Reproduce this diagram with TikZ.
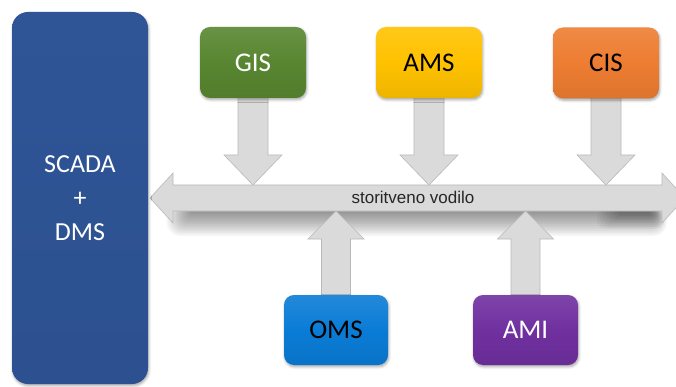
\documentclass[tikz,border=0pt]{standalone}
\usepackage{fontspec}
\setmainfont{Carlito}
\newfontfamily\busfont{Liberation Sans}
\usetikzlibrary{shadows.blur,calc,backgrounds}

\definecolor{scadablue}{RGB}{47,85,151}
\definecolor{gisgreen}{RGB}{88,134,48}
\definecolor{amsyellow}{RGB}{255,194,0}
\definecolor{cisorange}{RGB}{237,125,49}
\definecolor{omsblue}{RGB}{10,124,214}
\definecolor{amipurple}{RGB}{112,48,160}
\definecolor{arrowfill}{RGB}{218,218,218}
\definecolor{arrowline}{RGB}{185,185,185}

% block arrow pointing down from a box to the bus
\newcommand\blockdown[2]{%
  \path[blockarrow] let \p1=(#1.south), \p2=(#1.south |- #2) in
    (\x1-15pt,\y1+4pt) -- (\x1-15pt,\y2+30pt) -- (\x1-29pt,\y2+30pt) -- (\x1,\y2)
    -- (\x1+29pt,\y2+30pt) -- (\x1+15pt,\y2+30pt) -- (\x1+15pt,\y1+4pt) -- cycle;}
% block arrow pointing up from a box to the bus
\newcommand\blockup[2]{%
  \path[blockarrow] let \p1=(#1.north), \p2=(#1.north |- #2) in
    (\x1-14.5pt,\y1-4pt) -- (\x1-14.5pt,\y2-28pt) -- (\x1-28pt,\y2-28pt) -- (\x1,\y2)
    -- (\x1+28pt,\y2-28pt) -- (\x1+14.5pt,\y2-28pt) -- (\x1+14.5pt,\y1-4pt) -- cycle;}

\begin{document}
\begin{tikzpicture}[x=1pt,y=-1pt,
  sysbox/.style={draw=none, rounded corners=10pt, inner sep=0pt,
    minimum width=106pt, minimum height=71pt,
    font=\fontsize{27}{32}\selectfont,
    top color=#1!90!white, bottom color=#1!93!black, middle color=#1,
    blur shadow={shadow xshift=0.8pt, shadow yshift=-1.8pt,
      shadow blur radius=2.5pt, shadow opacity=35}},
  blockarrow/.style={fill=arrowfill, draw=arrowline, line width=0.6pt,
    line join=miter},
  buslabel/.style={font=\busfont\fontsize{17}{19}\selectfont, text=black!85}]

\useasboundingbox (0,0) rectangle (676,387);

% central system
\node[sysbox=scadablue, minimum width=136pt, minimum height=372pt,
  rounded corners=16pt, top color=scadablue, middle color=scadablue,
  bottom color=scadablue!95!black, text=white, align=center,
  font=\fontsize{26}{34}\selectfont] (scada) at (80,198)
  {\raisebox{-3pt}{\parbox{120pt}{\centering SCADA\\+\\DMS}}};

% connected systems
\node[sysbox=gisgreen,  text=white] (gis) at (253,62.5) {GIS};
\node[sysbox=amsyellow, text=black] (ams) at (429,62.5) {AMS};
\node[sysbox=cisorange, text=black] (cis) at (606,63) {CIS};
\node[sysbox=omsblue, minimum width=104pt, minimum height=70pt, text=black] (oms) at (336,330) {OMS};
\node[sysbox=amipurple, minimum width=105pt, minimum height=70pt, text=white] (ami) at (525.5,330) {AMI};

% service bus
\coordinate (bustop) at (400,185);
\coordinate (busbot) at (400,211);
\node[buslabel] (bus) at (413,197.5) {storitveno vodilo};

\begin{scope}[on background layer]
% soft shadow under the bus shaft, built from stacked translucent layers
\foreach \i in {0,...,13}
  \fill[black, opacity=0.035, rounded corners=2pt+\i*0.9pt]
    (190-1.8*\i,208-0.3*\i) rectangle (650+1.3*\i,214+1.7*\i);
\foreach \i in {0,...,7}
  \fill[black, opacity=0.04, rounded corners=2pt+\i pt]
    (618-3*\i,209) rectangle (656+1.2*\i,216+1.8*\i);

\path[blockarrow]
  (150,198) -- (173,173) -- (173,185) -- (662,185) -- (662,173) -- (685,198)
  -- (662,223) -- (662,211) -- (173,211) -- (173,223) -- cycle;

% connectors into the bus
\blockdown{gis}{bustop}
\blockdown{ams}{bustop}
\blockdown{cis}{bustop}
\blockup{oms}{busbot}
\blockup{ami}{busbot}
\end{scope}
\end{tikzpicture}
\end{document}
